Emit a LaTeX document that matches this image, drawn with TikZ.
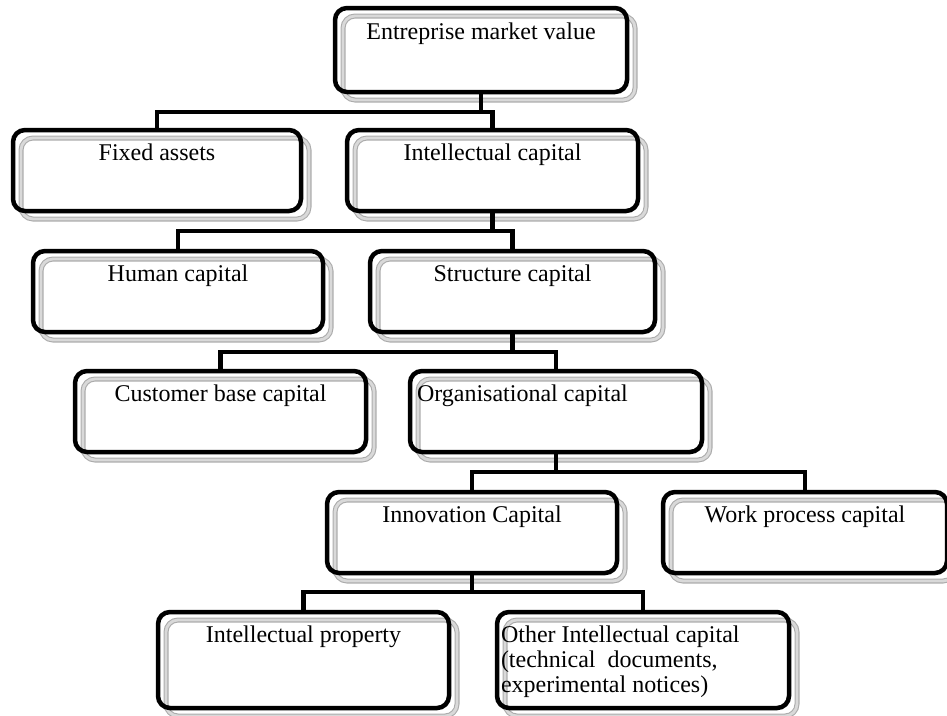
\documentclass[tikz,border=0pt]{standalone}
\usepackage{fontspec}
\setmainfont{Liberation Serif}
\usetikzlibrary{backgrounds}

\begin{document}
\begin{tikzpicture}[x=1pt,y=-1pt]
            \tikzstyle{every node}=[font=\fontsize{24}{25}\selectfont, inner sep=0pt, outer sep=0pt]
            \tikzstyle{box}=[draw, line width=4.5pt, rounded corners=12pt, minimum height=81pt]
            \tikzstyle{shade}=[draw=gray!65, double=gray!30, double distance=2.8pt, line width=1.1pt, rounded corners=12pt]
            \tikzstyle{link}=[line width=4.5pt]
            \useasboundingbox (0,0) rectangle (947,715);
            \node [box, minimum width=292pt, minimum height=84pt] (mkt) at (481,50) {};
            \node [box, minimum width=288pt] (fix) at (157,170.5) {};
            \node [box, minimum width=291pt] (ic) at (492.5,170.5) {};
            \node [box, minimum width=290pt] (hum) at (178,291.5) {};
            \node [box, minimum width=285pt] (str) at (512.5,291.5) {};
            \node [box, minimum width=291pt] (cust) at (220.5,411.5) {};
            \node [box, minimum width=292pt] (org) at (556,411.5) {};
            \node [box, minimum width=290pt] (inno) at (472,532.5) {};
            \node [box, minimum width=284pt] (work) at (805,532.5) {};
            \node [box, minimum width=291pt, minimum height=96pt] (ip) at (303.5,660) {};
            \node [box, minimum width=292pt, minimum height=96pt] (oic) at (643,660) {};
            \node [anchor=base] (mktT) at ([shift={(0,31)}]mkt.north) {Entreprise market value};
            \node [anchor=base] (fixT) at ([shift={(0,30)}]fix.north) {Fixed assets};
            \node [anchor=base] (icT) at ([shift={(0,30)}]ic.north) {Intellectual capital};
            \node [anchor=base] (humT) at ([shift={(0,30)}]hum.north) {Human capital};
            \node [anchor=base] (strT) at ([shift={(0,30)}]str.north) {Structure capital};
            \node [anchor=base] (custT) at ([shift={(0,30)}]cust.north) {Customer base capital};
            \node [anchor=base west] (orgT) at ([shift={(7,30)}]org.north west) {Organisational capital};
            \node [anchor=base] (innoT) at ([shift={(0,30)}]inno.north) {Innovation Capital};
            \node [anchor=base] (workT) at ([shift={(0,30)}]work.north) {Work process capital};
            \node [anchor=base] (ipT) at ([shift={(0,30)}]ip.north) {Intellectual property};
            \node [anchor=north west, align=left] (oicT) at ([shift={(4,14)}]oic.north west) {Other Intellectual capital\\(technical\ \ documents,\\experimental notices)};
            \begin{scope}[on background layer]
                \foreach \n in {mkt,fix,ic,hum,str,cust,org,inno,work,ip,oic}
                    \draw [shade] ([shift={(8,8)}]\n.north west) rectangle ([shift={(8,8)}]\n.south east);
            \end{scope}
            \draw [link] (mkt.south) -- ++(0,20) -| (fix.north);
            \draw [link] (mkt.south) -- ++(0,20) -| (ic.north);
            \draw [link] (ic.south) -- ++(0,20) -| (hum.north);
            \draw [link] (ic.south) -- ++(0,20) -| (str.north);
            \draw [link] (str.south) -- ++(0,20) -| (cust.north);
            \draw [link] (str.south) -- ++(0,20) -| (org.north);
            \draw [link] (org.south) -- ++(0,20) -| (inno.north);
            \draw [link] (org.south) -- ++(0,20) -| (work.north);
            \draw [link] (inno.south) -- ++(0,19) -| (ip.north);
            \draw [link] (inno.south) -- ++(0,19) -| (oic.north);
        \end{tikzpicture}
\end{document}
